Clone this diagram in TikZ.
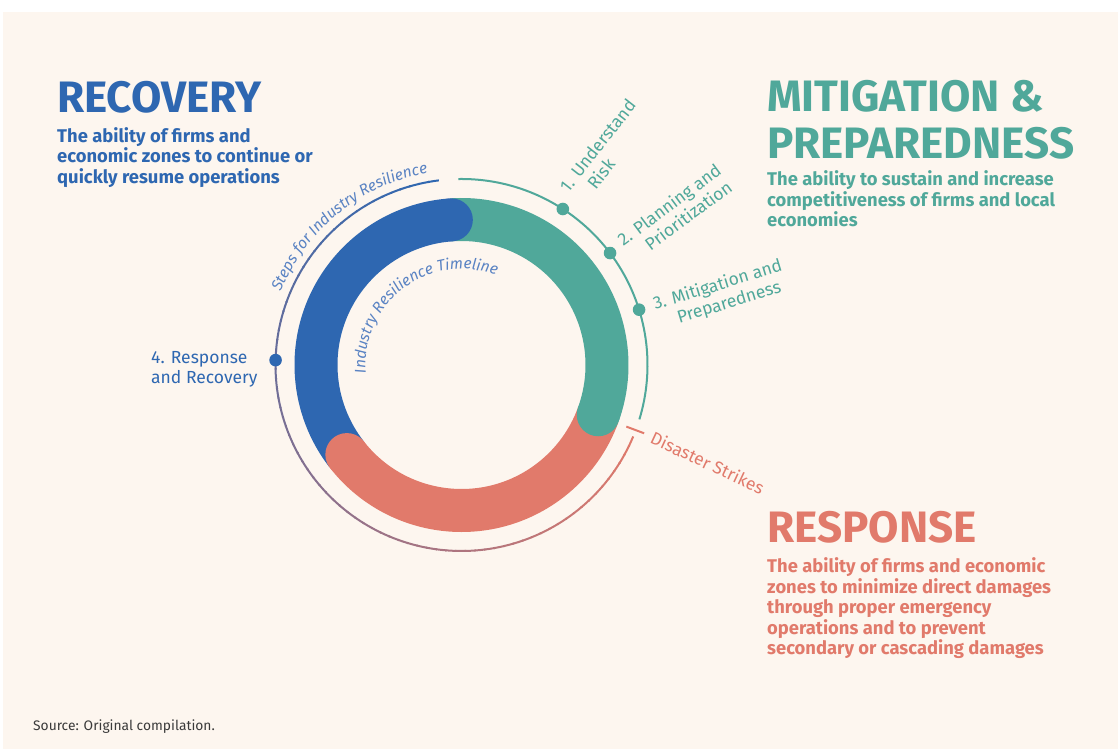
\documentclass[tikz,border=0pt]{standalone}
\usepackage{fontspec}
\setmainfont{Fira Sans}
\usetikzlibrary{positioning,decorations.text}

\definecolor{panelbg}{HTML}{FDF6EF}
\definecolor{recblue}{HTML}{2E67B1}
\definecolor{mitgreen}{HTML}{50A89A}
\definecolor{respred}{HTML}{E17A6B}
\definecolor{arctext}{HTML}{5A83C3}
\definecolor{srcgrey}{HTML}{3A3A3A}

\tikzset{
	heading/.style={anchor=base west, inner sep=0, align=left, font=\fontsize{44}{46.6}\selectfont\bfseries},
	blurb/.style={anchor=base west, inner sep=0, align=left, font=\fontsize{18.4}{20.5}\selectfont\bfseries},
	steplabel/.style={anchor=base west, inner sep=0, align=left, font=\fontsize{17.5}{20}\selectfont},
	band/.style={line width=43pt},
	rim/.style={line width=2pt},
	dot/.style={circle, inner sep=0, minimum size=12.6pt},
}

\begin{document}
\begin{tikzpicture}[x=1pt, y=1pt]
				\useasboundingbox (0, 0) rectangle (1118, 749);
				\fill[panelbg](2.5, 0) rectangle (1118, 737);

				\coordinate (c) at (461.5, 384);

				%%the thick ring
				\draw[band, mitgreen](c) ++(-20:145.5) arc[start angle=-20, end angle=94, radius=145.5];
				\draw[band, recblue](c) ++(94:145.5) arc[start angle=94, end angle=218, radius=145.5];
				\draw[band, respred](c) ++(218:145.5) arc[start angle=218, end angle=340, radius=145.5];
				%%round ends
				\fill[recblue](c) ++(94:145.5) circle[radius=21.5];
				\fill[mitgreen](c) ++(-20:145.5) circle[radius=21.5];
				\fill[respred](c) ++(218:145.5) circle[radius=21.5];

				%%outer rim, blue fading into red
				\foreach \a [evaluate=\a as \p using {(\a-97)/2.39}] in {97,100,...,334}
					\draw[rim, respred!\p!recblue](c) ++(\a:186) arc[start angle=\a, end angle=\a+3.4, radius=186];
				%%green rim
				\draw[rim, mitgreen](c) ++(91:186) arc[start angle=91, end angle=-17, radius=186];
				%%disaster tick
				\coordinate (t1) at ([shift={(-20.5:176)}]c);
				\coordinate (t2) at ([shift={(-20.5:195)}]c);
				\draw[rim, respred](t1) to (t2);

				%%dots
				\node[dot, fill=mitgreen] (d1) at ([shift={(57:186)}]c) {};
				\node[dot, fill=mitgreen] (d2) at ([shift={(37:186)}]c) {};
				\node[dot, fill=mitgreen] (d3) at ([shift={(17.3:186)}]c) {};
				\node[dot, fill=recblue] (d4) at ([shift={(178.5:186)}]c) {};

				%%text along the arcs
				\path[decorate, decoration={text along path, text align=left,
					text={|\fontsize{15.5}{18}\selectfont\itshape\color{arctext}|Steps for Industry Resilience}}]
					(c) ++(158:195) arc[start angle=158, end angle=80, radius=195];
				\path[decorate, decoration={text along path, text align=left,
					text={|\fontsize{15.5}{18}\selectfont\itshape\color{arctext}|Industry Resilience Timeline}}]
					(c) ++(185:96) arc[start angle=185, end angle=40, radius=96];

				%%step labels
				\node[steplabel, mitgreen, rotate=52] (s1) at (584.1, 543.4) {1. Understand\\\hspace*{19pt}Risk};
				\node[steplabel, mitgreen, rotate=36.5] (s2) at (635.2, 486.2) {2. Planning and\\\hspace*{19pt}Prioritization};
				\node[steplabel, mitgreen, rotate=17] (s3) at (660.9, 419.9) {3. Mitigation and\\\hspace*{19pt}Preparedness};
				\node[steplabel, respred, rotate=-25] (s5) at (649, 306.3) {Disaster Strikes};
				\node[steplabel, recblue] (s4) at (151, 365.7) {4. Response\\and Recovery};

				%%the three phases
				\node[heading, recblue] (rec) at (57, 636.3) {RECOVERY};
				\node[blurb, recblue] (recb) at (57, 565.7) {The ability of firms and\\economic zones to continue or\\quickly resume operations};

				\node[heading, mitgreen] (mit) at (767, 590.7) {MITIGATION \&\\PREPAREDNESS};
				\node[blurb, mitgreen] (mitb) at (767, 522.3) {The ability to sustain and increase\\competitiveness of firms and local\\economies};

				\node[heading, respred] (resp) at (767, 206.3) {RESPONSE};
				\node[blurb, respred] (respb) at (767, 94) {The ability of firms and economic\\zones to minimize direct damages\\through proper emergency\\operations and to prevent\\secondary or cascading damages};

				\node[anchor=base west, inner sep=0, srcgrey, font=\fontsize{13.8}{16}\selectfont] (src) at (33, 19) {Source: Original compilation.};
			\end{tikzpicture}
\end{document}
